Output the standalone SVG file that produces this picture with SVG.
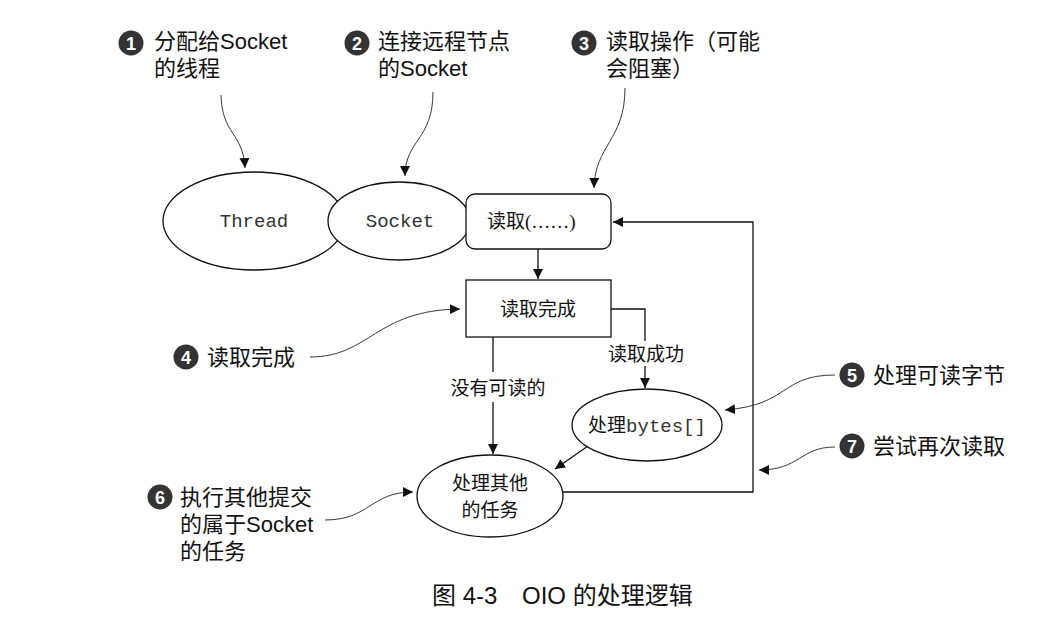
<svg xmlns="http://www.w3.org/2000/svg" width="1037" height="629" viewBox="0 0 1037 629">
  <defs>
    <marker id="arr" viewBox="0 0 10 10" refX="10" refY="5" markerWidth="10" markerHeight="10" markerUnits="userSpaceOnUse" orient="auto">
      <path d="M0,0 L10,5 L0,10 z" fill="#111"/>
    </marker>
  </defs>
  <style>
    .shape { fill: #fff; stroke: #111; stroke-width: 1.3; }
    .edge { fill: none; stroke: #111; stroke-width: 1.3; }
    .callout { fill: none; stroke: #222; stroke-width: 0.9; }
    .mono { font-family: "Liberation Mono", "Noto Sans CJK SC", monospace; font-size: 19px; fill: #333; }
    .lbl { font-family: "Noto Sans CJK SC", sans-serif; font-size: 19px; fill: #111; }
    .note { font-family: "Liberation Sans", "Noto Sans CJK SC", sans-serif; font-size: 22px; fill: #111; }
    .badge { fill: #333; }
    .num { font-family: "Liberation Sans", sans-serif; font-size: 18px; font-weight: bold; fill: #fff; text-anchor: middle; }
    .cap { font-family: "Liberation Sans", "Noto Sans CJK SC", sans-serif; font-size: 24px; fill: #111; }
  </style>

  <!-- nodes -->
  <g id="thread">
    <ellipse class="shape" cx="254" cy="221" rx="91" ry="49"/>
    <text class="mono" x="254" y="227" text-anchor="middle">Thread</text>
  </g>
  <g id="socket">
    <ellipse class="shape" cx="399" cy="221" rx="71" ry="39"/>
    <text class="mono" x="400" y="227" text-anchor="middle">Socket</text>
  </g>
  <g id="read">
    <rect class="shape" x="466" y="194" width="145" height="55" rx="9"/>
    <text class="lbl" x="487" y="228">读取<tspan font-family="Liberation Serif, serif">(……)</tspan></text>
  </g>
  <g id="read-done">
    <rect class="shape" x="466" y="280" width="145" height="57"/>
    <text class="lbl" x="538" y="316" text-anchor="middle">读取完成</text>
  </g>
  <g id="handle-bytes">
    <ellipse class="shape" cx="647" cy="425" rx="75" ry="36"/>
    <text class="lbl" x="647" y="432" text-anchor="middle">处理<tspan class="mono" font-size="17">bytes[]</tspan></text>
  </g>
  <g id="other-tasks">
    <ellipse class="shape" cx="490" cy="496" rx="73" ry="41"/>
    <text class="lbl" x="490" y="490" text-anchor="middle">处理其他</text>
    <text class="lbl" x="490" y="517" text-anchor="middle">的任务</text>
  </g>

  <!-- connectors -->
  <g id="connectors">
    <path class="edge" d="M538,249 V279" marker-end="url(#arr)"/>
    <path class="edge" d="M611,309 H645 V341"/>
    <path class="edge" d="M645,366 V388" marker-end="url(#arr)"/>
    <text class="lbl" x="646" y="361" text-anchor="middle">读取成功</text>
    <path class="edge" d="M493,337 V372"/>
    <path class="edge" d="M493,402 V454" marker-end="url(#arr)"/>
    <text class="lbl" x="498" y="395" text-anchor="middle">没有可读的</text>
    <path class="edge" d="M588,446 L555,469" marker-end="url(#arr)"/>
    <path class="edge" d="M563,492 H753 V222 H613" marker-end="url(#arr)"/>
  </g>

  <!-- numbered callouts -->
  <g id="note-1">
    <circle class="badge" cx="131" cy="43" r="12.5"/>
    <text class="num" x="131" y="50">1</text>
    <text class="note" x="154" y="49">分配给Socket</text>
    <text class="note" x="154" y="76">的线程</text>
    <path class="callout" d="M221,95 C222,135 243,132 245,168" marker-end="url(#arr)"/>
  </g>
  <g id="note-2">
    <circle class="badge" cx="357" cy="43" r="12.5"/>
    <text class="num" x="357" y="50">2</text>
    <text class="note" x="378" y="49">连接远程节点</text>
    <text class="note" x="378" y="76">的Socket</text>
    <path class="callout" d="M433,92 C433,140 405,140 405,176" marker-end="url(#arr)"/>
  </g>
  <g id="note-3">
    <circle class="badge" cx="584" cy="43" r="12.5"/>
    <text class="num" x="584" y="50">3</text>
    <text class="note" x="606" y="49">读取操作（可能</text>
    <text class="note" x="606" y="76">会阻塞）</text>
    <path class="callout" d="M625,88 C625,140 595,145 594,188" marker-end="url(#arr)"/>
  </g>
  <g id="note-4">
    <circle class="badge" cx="186" cy="357" r="12.5"/>
    <text class="num" x="186" y="364">4</text>
    <text class="note" x="207" y="365">读取完成</text>
    <path class="callout" d="M310,357 C370,357 375,310 460,309" marker-end="url(#arr)"/>
  </g>
  <g id="note-5">
    <circle class="badge" cx="852" cy="375" r="12.5"/>
    <text class="num" x="852" y="382">5</text>
    <text class="note" x="873" y="383">处理可读字节</text>
    <path class="callout" d="M835,375 C780,375 790,405 725,410" marker-end="url(#arr)"/>
  </g>
  <g id="note-6">
    <circle class="badge" cx="160" cy="497" r="12.5"/>
    <text class="num" x="160" y="504">6</text>
    <text class="note" x="180" y="505">执行其他提交</text>
    <text class="note" x="180" y="532">的属于Socket</text>
    <text class="note" x="180" y="559">的任务</text>
    <path class="callout" d="M325,520 C370,520 370,492 413,492" marker-end="url(#arr)"/>
  </g>
  <g id="note-7">
    <circle class="badge" cx="852" cy="446" r="12.5"/>
    <text class="num" x="852" y="453">7</text>
    <text class="note" x="873" y="454">尝试再次读取</text>
    <path class="callout" d="M835,447 C800,447 800,470 759,470" marker-end="url(#arr)"/>
  </g>

  <text class="cap" x="432" y="604">图 4-3<tspan x="522">OIO 的处理逻辑</tspan></text>
</svg>
